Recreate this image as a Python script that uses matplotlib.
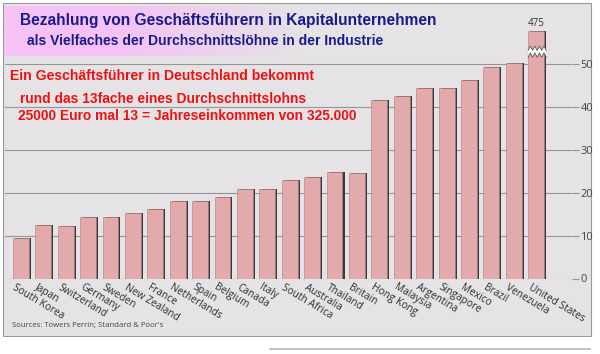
import numpy as np
import matplotlib
matplotlib.use("Agg")
from matplotlib import pyplot as plt
from matplotlib.patches import Rectangle, Polygon
from matplotlib.colors import to_rgb

countries = ["South Korea", "Japan", "Switzerland", "Germany", "Sweden", "New Zealand",
             "France", "Netherlands", "Spain", "Belgium", "Canada", "Italy",
             "South Africa", "Australia", "Thailand", "Britain", "Hong Kong", "Malaysia",
             "Argentina", "Singapore", "Mexico", "Brazil", "Venezuela", "United States"]
multiples = [9.5, 12.4, 12.3, 14.3, 14.3, 15.2, 16.2, 18.0, 18.0, 19.0, 20.9, 20.9,
             22.9, 23.8, 24.8, 24.7, 41.6, 42.6, 44.5, 44.5, 46.4, 49.3, 50.3, 475]
yticks = [0, 10, 20, 30, 40, 50]

title1 = "Bezahlung von Geschäftsführern in Kapitalunternehmen"
title2 = "als Vielfaches der Durchschnittslöhne in der Industrie"
red1 = "Ein Geschäftsführer in Deutschland bekommt"
red2 = "rund das 13fache eines Durchschnittslohns"
red3 = "25000 Euro mal 13 = Jahreseinkommen von 325.000"
source = "Sources: Towers Perrin; Standard & Poor's"

W, H = 600, 354
card_bg = "#e5e3e5"
bar_color = "#e3aaab"
navy = "#1a1a8e"
red = "#f01010"


def fx(px):
    return px / W


def fy(py):
    return 1 - py / H


fig = plt.figure(figsize=(6, 3.54), dpi=100)
fig.patch.set_facecolor("white")

# card background
fig.patches.append(Rectangle((fx(3), fy(336)), fx(588), (333) / H, transform=fig.transFigure,
                             facecolor=card_bg, edgecolor="#9a9a9a", lw=0.8, zorder=0))
fig.add_artist(plt.Line2D([fx(270), fx(590)], [fy(349), fy(349)], color="#b8b8b8", lw=1.2))

# pink title box with fade
gax = fig.add_axes([fx(4), fy(56), fx(300), 50 / H], zorder=1)
c1 = np.array(to_rgb("#f5c2f5"))
c2 = np.array(to_rgb(card_bg))
t = np.clip(np.linspace(-0.6, 1.0, 256), 0, 1)[None, :, None]
grad = c1 * (1 - t) + c2 * t
gax.imshow(grad, aspect="auto", extent=[0, 1, 0, 1])
gax.axis("off")

# main axes
ax = fig.add_axes([fx(5), fy(278.5), fx(567), 273.5 / H], zorder=2)
ax.patch.set_alpha(0)
n = len(countries)
x = np.arange(n)
break_at = 57.8
shown = [min(v, break_at) for v in multiples]
ax.set_xlim(-0.71, n + 0.6)
ax.set_ylim(0, 63.9)

for yv in yticks:
    ax.axhline(yv, color="#959595", lw=0.8, zorder=1)

ax.bar(x + 0.09, shown, width=0.71, color="#3a3a3a", zorder=2)
ax.bar(x, shown, width=0.71, color=bar_color, edgecolor="#b07c7e", lw=0.4, zorder=3)

# broken top for the US bar
i = n - 1
xs = np.linspace(i - 0.36, i + 0.45, 9)
top = [53.8 + (0.5 if k % 2 else -0.5) for k in range(len(xs))]
bot = [52.2 + (0.5 if k % 2 else -0.5) for k in range(len(xs))]
poly = list(zip(xs, top)) + list(zip(xs[::-1], bot[::-1]))
ax.add_patch(Polygon(poly, closed=True, facecolor="white", edgecolor="none", zorder=4))
ax.plot(xs, top, color="#555555", lw=0.6, zorder=5)
ax.plot(xs, bot, color="#555555", lw=0.6, zorder=5)
ax.text(i, break_at + 0.6, str(multiples[-1]), ha="center", va="bottom",
        fontsize=7, color="#333333", family="Open Sans")

for xi, name in zip(x, countries):
    ax.text(xi - 0.2, -0.8, name, rotation=-31, rotation_mode="anchor", ha="left", va="top",
            fontsize=7.3, color="#2e2e2e", family="Open Sans", clip_on=False)

ax.yaxis.tick_right()
ax.set_yticks(yticks)
ax.set_yticklabels([str(v) for v in yticks], family="Open Sans", fontsize=8, color="#444444")
ax.tick_params(axis="y", length=5, color="#959595", pad=1)
ax.set_xticks([])
for s in ax.spines.values():
    s.set_visible(False)

# texts
fig.text(fx(20), fy(20), title1, fontsize=11.2, fontweight="bold", color=navy,
         family="Liberation Sans", va="center", zorder=3)
fig.text(fx(27), fy(41), title2, fontsize=10, fontweight="bold", color=navy,
         family="Liberation Sans", va="center", zorder=3)
fig.text(fx(10), fy(76), red1, fontsize=10.1, fontweight="bold", color=red,
         family="Liberation Sans", va="center", zorder=3)
fig.text(fx(20), fy(99), red2, fontsize=9.9, fontweight="bold", color=red,
         family="Liberation Sans", va="center", zorder=3)
fig.text(fx(18), fy(116), red3, fontsize=9.9, fontweight="bold", color=red,
         family="Liberation Sans", va="center", zorder=3)
fig.text(fx(12), fy(325), source, fontsize=5.6, color="#444444", family="Open Sans",
         va="center", zorder=3)

fig.savefig("out.png", dpi=100)
